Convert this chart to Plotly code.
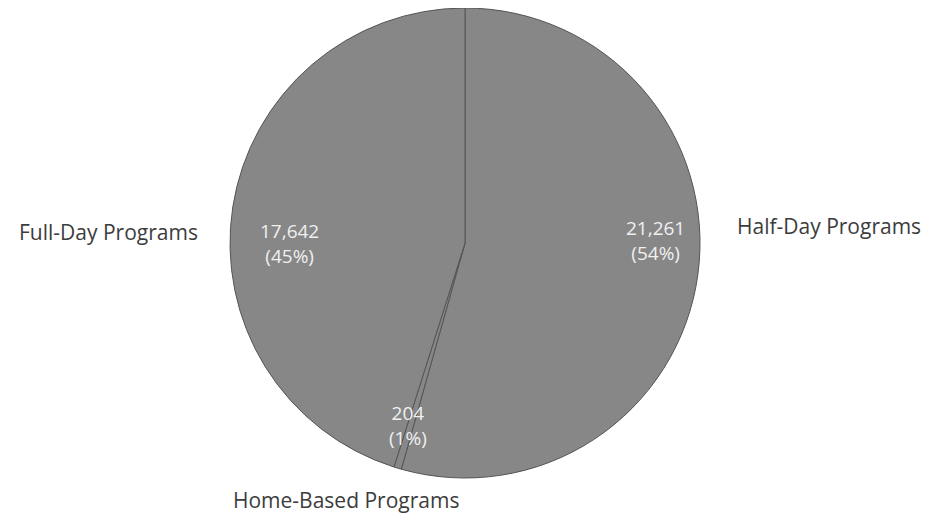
import plotly.graph_objects as go

labels = ["Half-Day Programs", "Home-Based Programs", "Full-Day Programs"]
values = [21261, 204, 17642]
percents = ["54%", "1%", "45%"]

W, H = 933, 517
OFF = 8  # page body margin offset
cx, cy, r = 465 - OFF, 243 - OFF, 235


def px(x):
    return (x - OFF) / W


def py(y):
    return 1 - (y - OFF) / H


fig = go.Figure()
fig.add_trace(go.Pie(
    labels=labels, values=values, sort=False, direction="clockwise", rotation=0,
    marker=dict(colors=["#878787"] * 3, line=dict(color="#555555", width=1)),
    textinfo="none", hoverinfo="label+value+percent", showlegend=False,
    domain=dict(x=[(cx - r) / W, (cx + r) / W], y=[1 - (cy + r) / H, 1 - (cy - r) / H]),
))

# label placement (layout positions, in page pixels)
inner_pos = {"Half-Day Programs": (655, 240), "Full-Day Programs": (289, 243), "Home-Based Programs": (408, 425)}
outer_pos = {"Half-Day Programs": (829, 226), "Full-Day Programs": (108, 232), "Home-Based Programs": (346, 500)}

annotations = []
for lab, val, pct in zip(labels, values, percents):
    ix, iy = inner_pos[lab]
    annotations.append(dict(
        x=px(ix), y=py(iy), xref="paper", yref="paper", showarrow=False,
        xanchor="center", yanchor="middle",
        text=f"{val:,}<br>({pct})", font=dict(family="Open Sans", size=19, color="#f0f0f0"),
        align="center"))
    ox, oy = outer_pos[lab]
    annotations.append(dict(
        x=px(ox), y=py(oy), xref="paper", yref="paper", showarrow=False,
        xanchor="center", yanchor="middle",
        text=lab, font=dict(family="Open Sans", size=21, color="#3c3c3c")))

fig.update_layout(
    width=W, height=H, margin=dict(l=0, r=0, t=0, b=0),
    paper_bgcolor="white", plot_bgcolor="white", annotations=annotations,
)
fig.write_html("out.html")
